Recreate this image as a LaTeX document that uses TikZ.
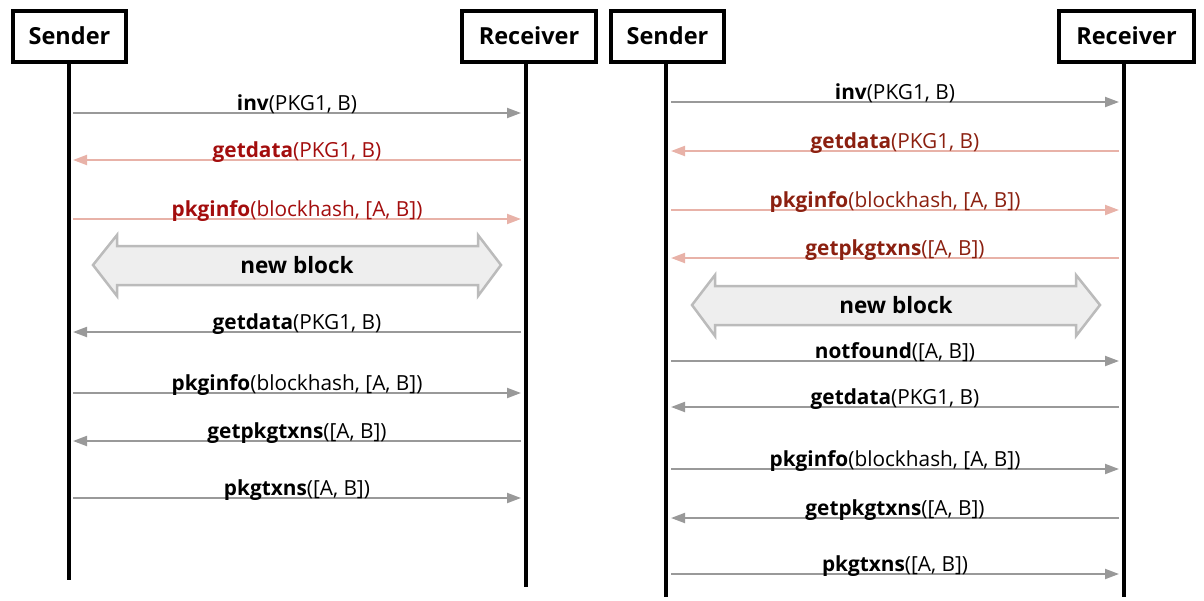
\documentclass[tikz,border=0pt]{standalone}
\usepackage{fontspec}
\setmainfont{Open Sans}
\usetikzlibrary{arrows.meta,calc}
\definecolor{msggray}{HTML}{999999}
\definecolor{msgpink}{HTML}{E8B2A8}
\definecolor{redA}{HTML}{A30D0D}
\definecolor{redB}{HTML}{8B2010}
\definecolor{blockfill}{HTML}{EEEEEE}
\definecolor{blockline}{HTML}{BBBBBB}
\tikzset{
  actor/.style={draw=black,line width=4pt,fill=white,font=\fontsize{23.5}{25}\selectfont\bfseries,inner sep=0pt,anchor=north west},
  lifeline/.style={line width=4pt,black},
  msg/.style={line width=2pt,-{Triangle[length=14pt,width=10pt]}},
  graymsg/.style={msg,msggray},
  pinkmsg/.style={msg,msgpink},
  lbl/.style={font=\fontsize{20.8}{22}\selectfont,anchor=base,inner sep=0pt},
  blockarrow/.style={fill=blockfill,draw=blockline,line width=2.5pt,line join=miter},
  blocklbl/.style={font=\fontsize{22.5}{24}\selectfont\bfseries,inner sep=0pt}
}
\begin{document}
\begin{tikzpicture}[x=1pt,y=-1pt]
\useasboundingbox (0,0) rectangle (1204,600);
% actor boxes
\node[actor,minimum width=113pt,minimum height=51pt] (s1) at (11,9) {\raisebox{2pt}{Sender}};
\node[actor,minimum width=134pt,minimum height=51pt] (r1) at (460,9) {\raisebox{2pt}{Receiver}};
\node[actor,minimum width=113pt,minimum height=51pt] (s2) at (609,9) {\raisebox{2pt}{Sender}};
\node[actor,minimum width=135pt,minimum height=51pt] (r2) at (1057,9) {\raisebox{2pt}{Receiver}};
% lifelines
\coordinate (s1b) at (69,580);
\coordinate (r1b) at (526,587);
\coordinate (s2b) at (666,597);
\coordinate (r2b) at (1124,597);
\draw[lifeline] (s1b |- s1.south) -- (s1b);
\draw[lifeline] (r1b |- r1.south) -- (r1b);
\draw[lifeline] (s2b |- s2.south) -- (s2b);
\draw[lifeline] (r2b |- r2.south) -- (r2b);
% left diagram messages
\foreach \y/\dir/\st/\txt in {
  113/r/graymsg/{\textbf{inv}(PKG1, B)},
  160/l/pinkmsg/{\color{redA}\textbf{getdata}(PKG1, B)},
  219/r/pinkmsg/{\color{redA}\textbf{pkginfo}(blockhash, [A, B])},
  332/l/graymsg/{\textbf{getdata}(PKG1, B)},
  393/r/graymsg/{\textbf{pkginfo}(blockhash, [A, B])},
  441/l/graymsg/{\textbf{getpkgtxns}([A, B])},
  498/r/graymsg/{\textbf{pkgtxns}([A, B])}}{
  \coordinate (a) at ($(s1b |- 0,\y)+(4,0)$);
  \coordinate (b) at ($(r1b |- 0,\y)+(-5,0)$);
  \if\dir r
    \draw[\st] (a) -- (b);
  \else
    \draw[\st] (b) -- (a);
  \fi
  \node[lbl] at ($(a)!0.5!(b)+(0,-3)$) {\txt};
}
% right diagram messages
\foreach \y/\dir/\st/\txt in {
  102/r/graymsg/{\textbf{inv}(PKG1, B)},
  151/l/pinkmsg/{\color{redB}\textbf{getdata}(PKG1, B)},
  210/r/pinkmsg/{\color{redB}\textbf{pkginfo}(blockhash, [A, B])},
  258/l/pinkmsg/{\color{redB}\textbf{getpkgtxns}([A, B])},
  361/r/graymsg/{\textbf{notfound}([A, B])},
  407/l/graymsg/{\textbf{getdata}(PKG1, B)},
  469/r/graymsg/{\textbf{pkginfo}(blockhash, [A, B])},
  518/l/graymsg/{\textbf{getpkgtxns}([A, B])},
  574/r/graymsg/{\textbf{pkgtxns}([A, B])}}{
  \coordinate (a) at ($(s2b |- 0,\y)+(5,0)$);
  \coordinate (b) at ($(r2b |- 0,\y)+(-5,0)$);
  \if\dir r
    \draw[\st] (a) -- (b);
  \else
    \draw[\st] (b) -- (a);
  \fi
  \node[lbl] at ($(a)!0.5!(b)+(0,-3)$) {\txt};
}
% new block arrows
\draw[blockarrow] (93,265) -- (117,235) -- (117,246) -- (478,246) -- (478,235) -- (501,265) -- (478,296) -- (478,285) -- (117,285) -- (117,296) -- cycle;
\node[blocklbl] (nb1) at (297,265) {new block};
\draw[blockarrow] (692,305) -- (715,275) -- (715,286) -- (1076,286) -- (1076,275) -- (1100,305) -- (1076,336) -- (1076,325) -- (715,325) -- (715,336) -- cycle;
\node[blocklbl] (nb2) at (896,305) {new block};
\end{tikzpicture}
\end{document}
